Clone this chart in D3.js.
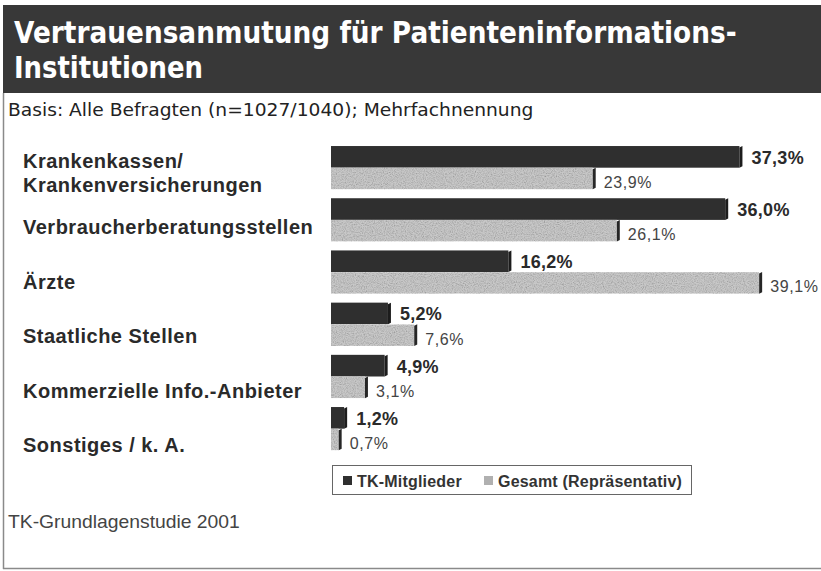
<!DOCTYPE html>
<html>
<head>
<meta charset="utf-8">
<script src="https://cdn.jsdelivr.net/npm/d3@7"></script>
<style>
  html, body { margin: 0; padding: 0; background: #fff; }
  svg { display: block; font-family: "Liberation Sans", Arial, sans-serif; }
</style>
</head>
<body>
<svg id="chart" width="821" height="571"></svg>
<script>
// Survey data: trust in patient information institutions (multiple answers, %)
const categories = [
  "Krankenkassen/\nKrankenversicherungen",
  "Verbraucherberatungsstellen",
  "Ärzte",
  "Staatliche Stellen",
  "Kommerzielle Info.-Anbieter",
  "Sonstiges / k. A."
];
const tkMitglieder = [37.3, 36.0, 16.2, 5.2, 4.9, 1.2];
const gesamt = [23.9, 26.1, 39.1, 7.6, 3.1, 0.7];
const seriesNames = ["TK-Mitglieder", "Gesamt (Repräsentativ)"];
const titleLines = ["Vertrauensanmutung für Patienteninformations-", "Institutionen"];
const subtitle = "Basis: Alle Befragten (n=1027/1040); Mehrfachnennung";
const source = "TK-Grundlagenstudie 2001";

const fmt = v => d3.format(".1f")(v).replace(".", ",") + "%";

// squeeze a text horizontally so that it spans the given width
function fitWidth(sel, width) {
  sel.each(function () {
    const x0 = +this.getAttribute("x");
    const w = this.getComputedTextLength();
    const k = width / w;
    d3.select(this).attr("transform", `translate(${x0 * (1 - k)},0) scale(${k},1)`);
  });
}

const svg = d3.select("#chart");
const defs = svg.append("defs");

// grainy texture for the light bars
const grain = defs.append("filter").attr("id", "grain")
  .attr("x", 0).attr("y", 0).attr("width", "100%").attr("height", "100%");
grain.append("feTurbulence").attr("type", "fractalNoise")
  .attr("baseFrequency", 0.9).attr("numOctaves", 2).attr("seed", 4).attr("result", "noise");
grain.append("feColorMatrix").attr("in", "noise").attr("type", "matrix")
  .attr("values", "0.33 0.33 0.33 0 0  0.33 0.33 0.33 0 0  0.33 0.33 0.33 0 0  0 0 0 0 1")
  .attr("result", "gray");
const ct = grain.append("feComponentTransfer").attr("in", "gray").attr("result", "g2");
["feFuncR", "feFuncG", "feFuncB"].forEach(f =>
  ct.append(f).attr("type", "linear").attr("slope", 1.3).attr("intercept", 0.25));
grain.append("feBlend").attr("in", "SourceGraphic").attr("in2", "g2")
  .attr("mode", "multiply").attr("result", "b");
grain.append("feComposite").attr("in", "b").attr("in2", "SourceGraphic").attr("operator", "in");

// frame
svg.append("rect").attr("x", 3).attr("y", 5).attr("width", 818).attr("height", 88)
  .attr("fill", "#383838");
svg.append("line").attr("x1", 3.5).attr("x2", 3.5).attr("y1", 93).attr("y2", 569)
  .attr("stroke", "#8a8a8a").attr("stroke-width", 1.5);
svg.append("line").attr("x1", 3).attr("x2", 821).attr("y1", 568.5).attr("y2", 568.5)
  .attr("stroke", "#8a8a8a").attr("stroke-width", 1.5);

// title
const titleWidths = [723, 189];
svg.append("g").selectAll("text").data(titleLines).join("text")
  .attr("x", 14).attr("y", (d, i) => 43 + i * 35)
  .attr("fill", "#fff").attr("font-size", 30).attr("font-weight", "bold")
  .attr("font-family", "'DejaVu Sans', Verdana, sans-serif")
  .text(d => d)
  .each(function (d, i) { fitWidth(d3.select(this), titleWidths[i]); });

svg.append("text").attr("x", 8).attr("y", 116)
  .attr("fill", "#222").attr("font-size", 18)
  .attr("font-family", "'DejaVu Sans', Verdana, sans-serif")
  .text(subtitle)
  .call(fitWidth, 526);

// scales
const x = d3.scaleLinear().domain([0, 40]).range([334, 334 + 438]);
const y = d3.scaleBand().domain(d3.range(categories.length))
  .range([141.6, 454.8]).paddingInner(0.17).paddingOuter(0.085);
const half = y.bandwidth() / 2;
const yLabel = d3.scalePoint().domain(d3.range(categories.length)).range([173, 445]);
const depth = 3;

const series = [
  { name: seriesNames[0], values: tkMitglieder, fill: "#2f2f2f", side: "#1c1c1c", off: 0 },
  { name: seriesNames[1], values: gesamt, fill: "#c8c8c8", side: "#262626", off: half }
];

series.forEach((s, si) => {
  const g = svg.append("g");
  const bars = g.append("g").attr("filter", si === 1 ? "url(#grain)" : null);
  bars.selectAll("rect").data(s.values).join("rect")
    .attr("x", x(0) - depth)
    .attr("y", (d, i) => y(i) + s.off)
    .attr("width", d => x(d) - x(0))
    .attr("height", half)
    .attr("fill", s.fill);
  // side face of each bar
  g.append("g").selectAll("path").data(s.values).join("path")
    .attr("d", (d, i) => {
      const x1 = x(d) - depth, y0 = y(i) + s.off, y1 = y0 + half;
      return `M${x1},${y0 + 1.5}L${x1 + depth},${y0}L${x1 + depth},${y1 - 1.5}L${x1},${y1}Z`;
    })
    .attr("fill", s.side);
  // value labels
  g.append("g").selectAll("text").data(s.values).join("text")
    .attr("x", d => x(d) + (si === 0 ? 9 : 8))
    .attr("y", (d, i) => y(i) + s.off + half / 2 + (si === 0 ? 7 : 9.5))
    .attr("font-size", si === 0 ? 18 : 16)
    .attr("font-weight", si === 0 ? "bold" : "normal")
    .attr("letter-spacing", si === 0 ? 0.3 : 0.6)
    .attr("fill", si === 0 ? "#2a2a2a" : "#444")
    .text(fmt);
});

// category labels
svg.append("g").selectAll("text").data(categories).join("text")
  .attr("x", 23)
  .attr("font-size", 20).attr("font-weight", "bold").attr("letter-spacing", 0.5)
  .attr("fill", "#2a2a2a")
  .each(function (d, i) {
    const lines = d.split("\n");
    const t = d3.select(this);
    const top = yLabel(i) + 7 - (lines.length - 1) * 12;
    lines.forEach((ln, k) => t.append("tspan").attr("x", 23).attr("y", top + k * 24).text(ln));
  });

// legend
const legend = svg.append("g");
legend.append("rect").attr("x", 332.5).attr("y", 465.5).attr("width", 359).attr("height", 29)
  .attr("fill", "#fff").attr("stroke", "#666").attr("stroke-width", 1);
const legX = [343, 484];
series.forEach((s, i) => {
  legend.append("rect").attr("x", legX[i]).attr("y", 476).attr("width", 9).attr("height", 9)
    .attr("fill", i === 0 ? "#2f2f2f" : "#b0b0b0");
  legend.append("text").attr("x", legX[i] + 14).attr("y", 486.5)
    .attr("font-size", 16).attr("font-weight", "bold").attr("letter-spacing", 0.2)
    .attr("fill", "#333").text(s.name);
});

// source
svg.append("text").attr("x", 8).attr("y", 528)
  .attr("font-size", 18).attr("fill", "#444")
  .text(source)
  .call(fitWidth, 232);
</script>
</body>
</html>
